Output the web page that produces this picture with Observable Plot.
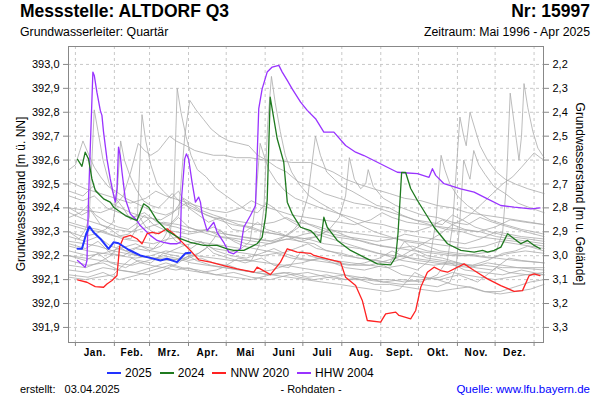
<!DOCTYPE html>
<html><head><meta charset="utf-8">
<script src="https://cdn.jsdelivr.net/npm/d3@7"></script>
<script src="https://cdn.jsdelivr.net/npm/@observablehq/plot@0.6"></script>
<style>
body{margin:0;background:#fff;font-family:"Liberation Sans",Arial,sans-serif;}
#wrap{position:relative;width:600px;height:400px;overflow:hidden;}
.t{position:absolute;white-space:nowrap;color:#000;}
.leg{position:absolute;top:366px;left:107px;display:flex;align-items:center;font-size:12px;line-height:14px;}
.leg span.sw{display:inline-block;width:14px;margin-right:4px;}
.leg span.it{display:flex;align-items:center;margin-right:8px;}
</style></head>
<body><div id="wrap"></div>
<script>
// ---- data (day of year, level in m ü. NN) ----
const groundLevel = 395.2;
const monthStarts = [0,31,59,90,120,151,181,212,243,273,304,334,365];
const monthLabels = ["Jan.","Feb.","Mrz.","Apr.","Mai","Juni","Juli","Aug.","Sept.","Okt.","Nov.","Dez."];
const levelTicks = [391.9,392.0,392.1,392.2,392.3,392.4,392.5,392.6,392.7,392.8,392.9,393.0];
const depthTicks = [2.2,2.3,2.4,2.5,2.6,2.7,2.8,2.9,3.0,3.1,3.2,3.3];

const s2025 = [[1.7,392.229],[5.2,392.229],[8.6,392.292],[11.2,392.322],[14.4,392.298],[19.8,392.271],[26.4,392.229],[30.4,392.256],[34.3,392.252],[42.3,392.225],[51.6,392.201],[59.6,392.191],[67.6,392.180],[72.9,392.187],[80.9,392.173],[87.5,392.210],[91.5,392.212]];

const s2024 = [[1.7,392.603],[5.2,392.574],[7.8,392.633],[10.4,392.605],[13.1,392.522],[15.8,392.473],[22.4,392.438],[27.7,392.424],[30.4,392.403],[39.7,392.368],[49,392.347],[54.3,392.417],[58.3,392.403],[65,392.347],[72.9,392.305],[83.5,392.271],[91.5,392.256],[102.1,392.243],[112.8,392.243],[120.7,392.229],[126,392.222],[134,392.222],[139.3,392.236],[144.6,392.250],[148.6,392.277],[151.3,392.361],[152.6,392.431],[155,392.863],[160.6,392.689],[165.8,392.591],[168.6,392.424],[172.5,392.375],[179.2,392.319],[187.1,392.305],[189.8,392.292],[195.1,392.256],[197.7,392.361],[200.4,392.319],[208.4,392.264],[219,392.222],[229.6,392.194],[240.3,392.166],[250.9,392.162],[254.9,392.194],[256.7,392.292],[258.3,392.431],[259.6,392.548],[262.8,392.548],[266.8,392.481],[272.2,392.431],[285.4,392.319],[296.1,392.250],[306.7,392.222],[317.3,392.215],[324,392.222],[328,392.215],[333.2,392.222],[338.6,392.236],[343.9,392.292],[349.1,392.271],[354.5,392.250],[359.8,392.264],[365.1,392.243],[369.9,392.229]];

const sNNW2020 = [[1.7,392.099],[9.2,392.089],[15.8,392.071],[22.4,392.068],[25.1,392.082],[29.1,392.096],[33.1,392.117],[35.1,392.236],[38.3,392.277],[43.7,392.285],[49,392.271],[53,392.250],[57,392.292],[61,392.298],[66.2,392.292],[72.9,392.313],[78.2,392.292],[83.5,392.264],[91.5,392.222],[98.1,392.183],[107.4,392.173],[118,392.159],[128.7,392.145],[141.9,392.131],[144.6,392.152],[155.2,392.121],[163.2,392.173],[168.6,392.229],[176.5,392.215],[187.1,392.210],[189.8,392.201],[200.4,392.187],[211,392.173],[215,392.110],[223,392.075],[228.3,392.013],[232.3,391.929],[242.9,391.922],[246.9,391.957],[254.9,391.964],[257.5,391.950],[266.8,391.936],[270.8,391.971],[274.8,392.068],[280.1,392.131],[285.4,392.152],[290.7,392.138],[296.1,392.131],[309.3,392.166],[317.3,392.138],[327.9,392.103],[338.5,392.075],[349.1,392.051],[355.8,392.054],[361.1,392.117],[365.1,392.124],[369.7,392.117]];

const sHHW2004 = [[1.7,392.180],[7.8,392.152],[9.2,392.180],[10.4,392.431],[13.9,392.968],[15,392.954],[17.1,392.884],[19.8,392.808],[21.1,392.787],[22.4,392.717],[25.1,392.605],[27.7,392.522],[30.4,392.452],[31.7,392.424],[33.1,392.480],[34.3,392.654],[35.7,392.619],[37.1,392.549],[39.7,392.438],[43.7,392.375],[49,392.347],[51.6,392.326],[59.6,392.285],[65,392.264],[70.2,392.256],[75.5,392.250],[80.9,392.250],[83.5,392.256],[84.3,392.431],[87,392.605],[88.3,392.626],[90.1,392.605],[92.8,392.508],[95.5,392.424],[98.1,392.445],[99.5,392.424],[100.8,392.375],[104.8,392.305],[110.1,392.340],[112.8,392.298],[118,392.256],[122,392.215],[126,392.208],[131.3,392.229],[134,392.319],[139.3,392.368],[143.3,392.410],[145.9,392.815],[148.6,392.898],[152.6,392.968],[156.6,392.989],[161.9,392.996],[164.6,392.968],[168.6,392.933],[172.5,392.898],[179.2,392.842],[184.5,392.808],[191.1,392.773],[197.7,392.717],[205.7,392.717],[215,392.661],[223,392.633],[229.6,392.619],[240.3,392.591],[248.2,392.570],[256.2,392.549],[261.5,392.547],[272.2,392.543],[281.4,392.528],[284.1,392.564],[286.7,392.536],[293.3,392.501],[306.6,392.480],[317.3,392.466],[327.9,392.438],[338.5,392.410],[349.1,392.403],[362.5,392.396],[369.7,392.400]];

// other years 1996-2023 (grey)
const histYears = [
[[-5,392.30],[3,392.27],[8,392.31],[11,392.36],[15,392.81],[18,392.72],[22,392.60],[27,392.50],[32,392.44],[38,392.40],[44,392.35],[50,392.37],[56,392.32],[64,392.29],[72,392.31],[80,392.26],[92,392.23],[100,392.26],[110,392.21],[122,392.19],[135,392.17],[148,392.19],[158,392.16],[170,392.15],[180,392.22],[186,392.20],[200,392.18],[215,392.15],[230,392.14],[245,392.16],[260,392.12],[275,392.11],[290,392.10],[305,392.12],[320,392.09],[335,392.15],[345,392.13],[360,392.12],[373,392.12]],
[[-5,392.40],[5,392.37],[12,392.39],[20,392.33],[28,392.31],[36,392.28],[44,392.27],[49,392.32],[53,392.79],[56,392.68],[60,392.58],[65,392.50],[70,392.47],[76,392.44],[82,392.47],[90,392.40],[98,392.37],[106,392.34],[115,392.36],[125,392.31],[135,392.30],[145,392.34],[152,392.31],[165,392.29],[178,392.26],[190,392.25],[200,392.22],[212,392.21],[225,392.19],[240,392.18],[250,392.17],[262,392.26],[268,392.23],[280,392.20],[292,392.19],[305,392.17],[318,392.15],[332,392.14],[345,392.19],[355,392.18],[373,392.17]],
[[-5,392.25],[8,392.23],[18,392.26],[28,392.21],[38,392.20],[48,392.23],[58,392.22],[68,392.24],[75,392.28],[78,392.40],[81,392.90],[84,392.80],[88,392.70],[92,392.62],[97,392.56],[104,392.53],[112,392.48],[120,392.45],[128,392.42],[136,392.39],[145,392.38],[152,392.42],[158,392.40],[166,392.36],[176,392.33],[186,392.30],[198,392.28],[210,392.26],[222,392.24],[235,392.22],[248,392.20],[260,392.18],[272,392.17],[285,392.16],[298,392.17],[310,392.14],[325,392.13],[340,392.12],[355,392.14],[373,392.12]],
[[-5,392.45],[6,392.43],[15,392.45],[25,392.40],[35,392.38],[45,392.36],[55,392.38],[65,392.34],[75,392.33],[82,392.37],[87,392.70],[91,392.85],[96,392.81],[102,392.77],[108,392.73],[115,392.70],[122,392.68],[130,392.67],[138,392.66],[145,392.62],[152,392.60],[160,392.57],[168,392.55],[177,392.51],[188,392.49],[198,392.46],[210,392.44],[222,392.42],[234,392.41],[246,392.39],[258,392.37],[270,392.35],[282,392.33],[295,392.31],[308,392.30],[320,392.28],[335,392.27],[350,392.26],[362,392.25],[373,392.24]],
[[-5,392.20],[8,392.18],[18,392.21],[28,392.17],[40,392.15],[50,392.18],[60,392.17],[70,392.21],[80,392.20],[90,392.18],[100,392.19],[110,392.17],[120,392.16],[130,392.19],[140,392.18],[146,392.24],[150,392.40],[153,392.75],[156,392.95],[159,392.84],[163,392.72],[167,392.62],[172,392.55],[178,392.50],[186,392.45],[195,392.42],[205,392.39],[215,392.36],[226,392.33],[238,392.30],[250,392.28],[262,392.26],[275,392.25],[290,392.22],[305,392.21],[320,392.20],[335,392.19],[350,392.18],[373,392.17]],
[[-5,392.28],[8,392.26],[18,392.28],[28,392.24],[40,392.22],[52,392.24],[62,392.23],[70,392.27],[76,392.33],[82,392.36],[90,392.32],[100,392.30],[112,392.28],[124,392.27],[136,392.25],[148,392.24],[160,392.26],[170,392.29],[178,392.32],[185,392.45],[191,392.70],[195,392.62],[200,392.55],[206,392.52],[212,392.49],[220,392.47],[230,392.44],[240,392.41],[250,392.40],[260,392.37],[270,392.35],[282,392.34],[292,392.33],[300,392.37],[308,392.35],[318,392.32],[330,392.30],[345,392.28],[360,392.27],[373,392.26]],
[[-5,392.33],[8,392.31],[20,392.30],[32,392.28],[42,392.29],[52,392.33],[60,392.36],[70,392.33],[80,392.32],[92,392.30],[104,392.31],[116,392.28],[130,392.27],[142,392.26],[155,392.25],[168,392.27],[180,392.26],[192,392.28],[202,392.31],[210,392.36],[215,392.45],[218,392.61],[222,392.52],[227,392.48],[231,392.50],[233,392.56],[237,392.49],[245,392.44],[255,392.41],[265,392.39],[276,392.37],[288,392.36],[300,392.34],[312,392.33],[322,392.36],[332,392.34],[345,392.32],[358,392.30],[373,392.28]],
[[-5,392.18],[10,392.16],[22,392.17],[35,392.14],[48,392.13],[60,392.15],[72,392.17],[85,392.15],[98,392.14],[112,392.12],[126,392.13],[140,392.11],[155,392.10],[170,392.12],[185,392.13],[200,392.11],[215,392.10],[230,392.11],[245,392.09],[260,392.10],[275,392.09],[288,392.12],[296,392.18],[300,392.32],[303,392.55],[306,392.78],[309,392.70],[311,392.66],[314,392.80],[318,392.73],[322,392.66],[328,392.60],[335,392.55],[342,392.52],[350,392.50],[360,392.48],[373,392.46]],
[[-5,392.12],[10,392.11],[22,392.13],[35,392.10],[50,392.12],[62,392.14],[75,392.16],[88,392.14],[100,392.13],[112,392.12],[126,392.11],[140,392.10],[155,392.12],[170,392.13],[185,392.11],[200,392.12],[215,392.10],[230,392.10],[245,392.09],[260,392.08],[275,392.08],[288,392.07],[298,392.09],[303,392.15],[306,392.35],[309,392.60],[312,392.55],[314,392.52],[317,392.64],[321,392.58],[326,392.54],[333,392.49],[342,392.46],[352,392.42],[362,392.40],[373,392.38]],
[[-5,392.38],[8,392.35],[20,392.33],[32,392.31],[45,392.30],[58,392.32],[70,392.34],[82,392.33],[95,392.31],[108,392.30],[120,392.29],[132,392.28],[145,392.27],[158,392.26],[170,392.27],[182,392.29],[192,392.30],[205,392.28],[218,392.27],[230,392.26],[243,392.24],[256,392.23],[268,392.24],[280,392.22],[295,392.21],[310,392.20],[322,392.21],[335,392.22],[340,392.30],[343,392.50],[346,392.88],[349,392.76],[351,392.68],[353,392.60],[355,392.70],[357,392.92],[360,392.82],[364,392.72],[368,392.65],[373,392.61]],
[[-5,392.22],[10,392.20],[22,392.21],[35,392.23],[48,392.25],[60,392.22],[72,392.21],[85,392.24],[98,392.26],[110,392.23],[122,392.22],[135,392.21],[148,392.20],[160,392.21],[172,392.19],[185,392.18],[198,392.19],[210,392.17],[222,392.16],[235,392.16],[248,392.15],[260,392.16],[272,392.14],[282,392.18],[287,392.35],[291,392.62],[294,392.56],[298,392.50],[304,392.45],[312,392.41],[320,392.38],[330,392.35],[342,392.33],[355,392.31],[365,392.30],[373,392.29]],
[[-5,392.56],[0,392.58],[3,392.63],[6,392.68],[10,392.63],[15,392.57],[20,392.53],[26,392.49],[32,392.47],[40,392.44],[48,392.42],[56,392.40],[64,392.38],[72,392.37],[80,392.39],[88,392.42],[95,392.40],[104,392.37],[114,392.35],[125,392.33],[136,392.32],[148,392.30],[160,392.29],[172,392.28],[185,392.27],[198,392.25],[212,392.24],[226,392.23],[240,392.21],[254,392.20],[268,392.19],[282,392.18],[296,392.17],[310,392.16],[325,392.16],[340,392.15],[355,392.15],[373,392.15]],
[[-5,392.30],[6,392.28],[15,392.29],[24,392.31],[30,392.34],[33,392.45],[36,392.68],[39,392.60],[43,392.54],[48,392.48],[54,392.43],[60,392.41],[66,392.40],[72,392.43],[77,392.46],[84,392.42],[92,392.40],[100,392.38],[110,392.36],[120,392.35],[130,392.33],[140,392.32],[150,392.30],[160,392.29],[170,392.28],[180,392.27],[192,392.28],[203,392.31],[212,392.29],[222,392.27],[234,392.25],[246,392.24],[258,392.23],[270,392.22],[285,392.21],[300,392.20],[315,392.20],[330,392.19],[345,392.21],[358,392.22],[373,392.21]],
[[-5,392.11],[8,392.10],[18,392.11],[30,392.12],[38,392.16],[45,392.19],[52,392.17],[60,392.16],[70,392.15],[80,392.14],[90,392.15],[100,392.13],[112,392.14],[122,392.16],[132,392.14],[142,392.13],[154,392.12],[166,392.13],[178,392.11],[190,392.10],[202,392.11],[214,392.12],[226,392.10],[238,392.08],[250,392.08],[262,392.07],[274,392.06],[288,392.05],[300,392.06],[314,392.07],[326,392.05],[338,392.05],[350,392.07],[362,392.09],[373,392.10]],
[[-5,392.26],[8,392.25],[18,392.24],[30,392.22],[40,392.21],[50,392.20],[60,392.19],[72,392.19],[85,392.18],[95,392.20],[104,392.23],[110,392.27],[115,392.31],[120,392.28],[126,392.26],[134,392.24],[142,392.23],[152,392.22],[164,392.21],[175,392.23],[185,392.25],[192,392.23],[202,392.22],[214,392.20],[226,392.19],[238,392.18],[250,392.17],[262,392.19],[270,392.21],[280,392.19],[292,392.18],[304,392.17],[316,392.16],[328,392.18],[340,392.21],[350,392.22],[360,392.24],[373,392.22]],
[[-5,392.40],[8,392.39],[20,392.38],[30,392.40],[38,392.45],[44,392.55],[50,392.67],[55,392.64],[60,392.62],[66,392.64],[72,392.68],[75,392.70],[80,392.68],[88,392.66],[95,392.64],[102,392.63],[110,392.62],[118,392.62],[128,392.61],[139,392.61],[150,392.60],[160,392.60],[172,392.59],[187,392.59],[196,392.57],[205,392.55],[215,392.52],[225,392.50],[237,392.48],[250,392.46],[262,392.44],[275,392.43],[288,392.41],[300,392.40],[312,392.38],[325,392.37],[338,392.36],[350,392.35],[362,392.34],[373,392.33]],
[[-5,392.20],[8,392.19],[20,392.18],[32,392.17],[45,392.16],[58,392.18],[70,392.20],[80,392.19],[92,392.17],[105,392.16],[118,392.15],[130,392.14],[143,392.13],[156,392.12],[170,392.11],[183,392.10],[196,392.09],[210,392.08],[222,392.07],[235,392.06],[248,392.05],[258,392.06],[265,392.10],[270,392.13],[278,392.11],[288,392.10],[300,392.08],[312,392.07],[325,392.05],[338,392.04],[350,392.05],[362,392.06],[373,392.08]],
[[-5,392.34],[8,392.32],[18,392.31],[28,392.29],[38,392.27],[50,392.26],[62,392.25],[74,392.27],[85,392.28],[96,392.26],[108,392.25],[120,392.24],[132,392.23],[139,392.26],[143,392.40],[147,392.67],[150,392.62],[154,392.56],[160,392.51],[167,392.47],[175,392.44],[185,392.42],[195,392.40],[207,392.38],[220,392.36],[232,392.34],[245,392.33],[258,392.31],[270,392.30],[282,392.32],[292,392.35],[300,392.33],[310,392.31],[322,392.30],[335,392.28],[348,392.27],[360,392.26],[373,392.25]],
[[-5,392.24],[10,392.22],[22,392.21],[35,392.20],[48,392.19],[60,392.20],[72,392.22],[84,392.21],[96,392.20],[110,392.19],[124,392.18],[138,392.18],[152,392.17],[166,392.16],[180,392.17],[194,392.19],[206,392.18],[220,392.17],[234,392.16],[248,392.18],[260,392.20],[270,392.23],[280,392.26],[290,392.29],[300,392.33],[308,392.35],[316,392.38],[324,392.42],[332,392.46],[340,392.50],[348,392.53],[355,392.57],[360,392.60],[365,392.63],[370,392.61],[373,392.60]],
[[-5,392.36],[4,392.38],[10,392.41],[16,392.37],[25,392.34],[34,392.32],[42,392.31],[50,392.34],[55,392.37],[62,392.33],[70,392.31],[80,392.30],[90,392.29],[100,392.30],[110,392.32],[120,392.29],[130,392.28],[142,392.27],[155,392.26],[166,392.28],[174,392.31],[180,392.35],[186,392.33],[195,392.31],[205,392.29],[215,392.28],[228,392.27],[240,392.26],[252,392.27],[262,392.29],[272,392.28],[285,392.27],[298,392.26],[310,392.25],[322,392.27],[335,392.30],[345,392.29],[355,392.28],[373,392.27]],
[[-5,392.47],[6,392.45],[14,392.49],[22,392.44],[32,392.41],[44,392.38],[56,392.36],[68,392.35],[78,392.38],[86,392.44],[92,392.42],[100,392.39],[110,392.37],[122,392.35],[134,392.34],[146,392.33],[158,392.34],[168,392.36],[176,392.34],[188,392.33],[200,392.31],[214,392.30],[228,392.29],[242,392.28],[256,392.27],[270,392.26],[284,392.25],[298,392.24],[312,392.23],[326,392.24],[338,392.26],[350,392.25],[362,392.24],[373,392.23]],
[[-5,392.16],[8,392.15],[18,392.17],[28,392.20],[34,392.24],[40,392.22],[50,392.20],[62,392.19],[74,392.18],[86,392.19],[98,392.21],[106,392.24],[112,392.22],[124,392.20],[136,392.19],[148,392.21],[158,392.23],[166,392.21],[178,392.19],[190,392.18],[204,392.17],[218,392.16],[230,392.17],[242,392.19],[252,392.22],[260,392.20],[272,392.18],[286,392.17],[300,392.16],[314,392.15],[328,392.17],[340,392.16],[352,392.15],[373,392.14]],
[[-5,392.51],[8,392.48],[20,392.46],[32,392.44],[44,392.42],[56,392.44],[64,392.47],[72,392.45],[84,392.43],[96,392.41],[108,392.39],[120,392.38],[132,392.40],[140,392.43],[148,392.41],[160,392.39],[172,392.37],[184,392.36],[196,392.35],[210,392.34],[222,392.33],[235,392.35],[244,392.38],[252,392.36],[264,392.34],[278,392.33],[292,392.32],[306,392.31],[320,392.30],[334,392.32],[346,392.35],[358,392.34],[373,392.33]],
[[-5,392.14],[10,392.13],[22,392.15],[34,392.14],[46,392.13],[58,392.12],[70,392.14],[82,392.17],[90,392.20],[96,392.18],[108,392.16],[120,392.15],[132,392.14],[144,392.13],[156,392.14],[168,392.16],[178,392.15],[190,392.14],[202,392.13],[214,392.12],[226,392.11],[238,392.10],[250,392.10],[262,392.09],[276,392.10],[290,392.11],[300,392.13],[310,392.12],[322,392.11],[334,392.10],[346,392.11],[358,392.12],[373,392.13]]
];

const colors = {y2025:"#2233ff", y2024:"#1f7a1f", nnw:"#ff2222", hhw:"#9933ff"};

// ---- build ----
const fmt = v => v.toFixed(1).replace(".", ",");
const monthMids = monthStarts.slice(0,12).map((s,i)=>(s+monthStarts[i+1])/2);
const grey = histYears.flatMap((s,i)=>s.map(([d,v])=>({d,v,id:i})));
const toObj = s => s.map(([d,v])=>({d,v}));

const chart = Plot.plot({
  width:600, height:400,
  marginLeft:68, marginRight:57, marginTop:46, marginBottom:58,
  style:{fontFamily:"'Liberation Sans',Arial,sans-serif", fontSize:"11px", color:"#000", background:"transparent"},
  x:{domain:[-5.5,372.5]},
  y:{domain:[391.837,393.075]},
  marks:[
    Plot.gridY(levelTicks,{stroke:"#c8c8c8", strokeOpacity:1, strokeDasharray:"3,3"}),
    Plot.gridX(monthStarts,{stroke:"#c8c8c8", strokeOpacity:1, strokeDasharray:"3,3"}),
    Plot.line(grey,{x:"d", y:"v", z:"id", stroke:"#ababab", strokeWidth:0.8}),
    Plot.line(toObj(sHHW2004),{x:"d", y:"v", stroke:colors.hhw, strokeWidth:1.3}),
    Plot.line(toObj(sNNW2020),{x:"d", y:"v", stroke:colors.nnw, strokeWidth:1.3}),
    Plot.line(toObj(s2024),{x:"d", y:"v", stroke:colors.y2024, strokeWidth:1.3}),
    Plot.line(toObj(s2025),{x:"d", y:"v", stroke:colors.y2025, strokeWidth:2}),
    Plot.axisY(levelTicks,{anchor:"left", tickFormat:fmt, tickSize:5, tickPadding:4, label:null, stroke:"#888"}),
    Plot.axisY(depthTicks.map(t=>+(groundLevel-t).toFixed(2)),{anchor:"right", tickFormat:v=>fmt(groundLevel-v), tickSize:5, tickPadding:4, label:null, stroke:"#888"}),
    Plot.axisX(monthStarts,{anchor:"bottom", tickFormat:()=>"", tickSize:4, label:null, stroke:"#888"}),
    Plot.axisX(monthMids,{anchor:"bottom", tickFormat:(d,i)=>monthLabels[i], tickSize:0, tickPadding:6, label:null, fontWeight:"bold", fontSize:10}),
    Plot.frame({stroke:"#888"})
  ]
});
const wrap = document.getElementById("wrap");
chart.style.position="absolute"; chart.style.left="0"; chart.style.top="0";
chart.querySelectorAll("text").forEach(t=>{ if(monthLabels.includes(t.textContent)) t.style.letterSpacing="0.6px"; });
wrap.appendChild(chart);

function addText(html, css){const d=document.createElement("div");d.className="t";d.innerHTML=html;Object.assign(d.style,css);wrap.appendChild(d);return d;}
addText("Messstelle: ALTDORF Q3",{left:"20px",top:"1px",fontSize:"17.5px",fontWeight:"bold"});
addText("Nr: 15997",{right:"10px",top:"1px",fontSize:"17.5px",fontWeight:"bold"});
addText("Grundwasserleiter: Quartär",{left:"20px",top:"25px",fontSize:"12.3px"});
addText("Zeitraum: Mai 1996 - Apr 2025",{right:"10px",top:"25px",fontSize:"12.3px"});
addText("Grundwasserstand [m ü. NN]",{left:"21px",top:"194px",fontSize:"12px",transform:"translate(-50%,-50%) rotate(-90deg)"});
addText("Grundwasserstand [m u. Gelände]",{left:"580px",top:"194px",fontSize:"12px",transform:"translate(-50%,-50%) rotate(90deg)"});
addText("erstellt:&nbsp;&nbsp;&nbsp;03.04.2025",{left:"20px",top:"383px",fontSize:"11px"});
addText("- Rohdaten -",{left:"311px",top:"383px",fontSize:"11px",transform:"translateX(-50%)"});
addText("Quelle: www.lfu.bayern.de",{right:"10px",top:"383px",fontSize:"11.5px",color:"#0000ff"});

const leg = document.createElement("div"); leg.className="leg";
[["2025",colors.y2025,2.5],["2024",colors.y2024,1.5],["NNW 2020",colors.nnw,1.5],["HHW 2004",colors.hhw,1.5]].forEach(([l,c,w])=>{
  const it=document.createElement("span"); it.className="it";
  it.innerHTML=`<span class="sw" style="height:${w}px;background:${c}"></span>${l}`;
  leg.appendChild(it);
});
wrap.appendChild(leg);
</script></body></html>
